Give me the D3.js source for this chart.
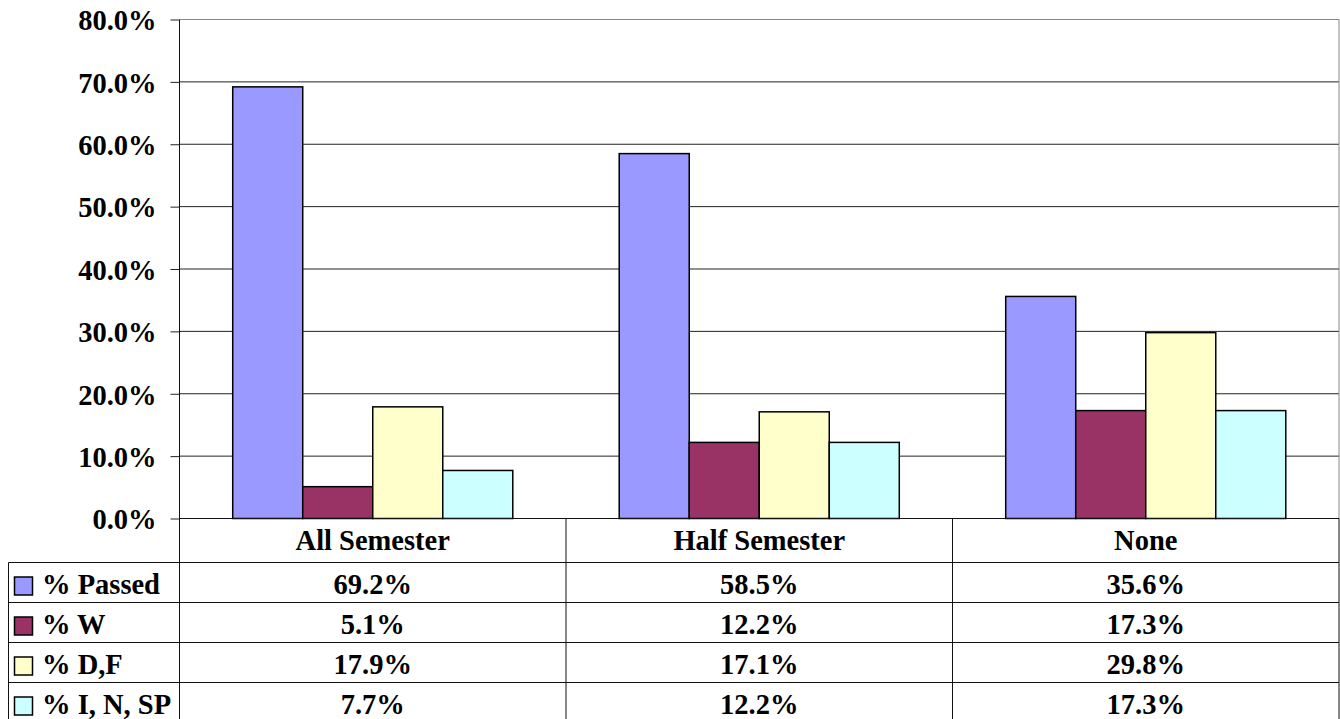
<!DOCTYPE html>
<html>
<head>
<meta charset="utf-8">
<script src="https://cdn.jsdelivr.net/npm/d3@7"></script>
<style>
  body { margin: 0; background: #fff; }
  text { font-family: "Liberation Serif", "Times New Roman", serif; font-weight: bold; fill: #000; }
</style>
</head>
<body>
<div id="chart"></div>
<script>
// ************ DATA ************
const CATEGORIES = ["All Semester", "Half Semester", "None"];
const SERIES = ["% Passed", "% W", "% D,F", "% I, N, SP"];
const PASSED = [0.692, 0.585, 0.356];
const WITHDRAWN = [0.051, 0.122, 0.173];
const DF = [0.179, 0.171, 0.298];
const INSP = [0.077, 0.122, 0.173];
const Y_TICKS = [0, 0.1, 0.2, 0.3, 0.4, 0.5, 0.6, 0.7, 0.8];
const COLORS = ["#9999FF", "#993366", "#FFFFCC", "#CCFFFF"];

const VALUES = [PASSED, WITHDRAWN, DF, INSP];

// ************ LAYOUT ************
const FRAME_WIDTH = 1340;
const FRAME_HEIGHT = 719;
const PLOT = {left: 179.5, right: 1339, top: 19.5, bottom: 518.5};
const TABLE_LEFT = 8.5;
const HEADER_H = 44;
const ROW_H = 40;
const FONT = "28.5px";

const svg = d3.select("#chart")
  .append("svg")
  .attr("width", FRAME_WIDTH)
  .attr("height", FRAME_HEIGHT);

const X_SCALE = d3.scaleBand()
  .domain(CATEGORIES)
  .range([PLOT.left, PLOT.right]);

const SUB_SCALE = d3.scaleBand()
  .domain(SERIES)
  .range([0, X_SCALE.bandwidth()])
  .paddingOuter(0.76);

const Y_SCALE = d3.scaleLinear()
  .domain([0, 0.8])
  .range([PLOT.bottom, PLOT.top]);

// gridlines
svg.append("g")
  .selectAll("line")
  .data(Y_TICKS.filter(d => d > 0))
  .enter()
  .append("line")
  .attr("x1", PLOT.left)
  .attr("x2", PLOT.right)
  .attr("y1", d => Y_SCALE(d))
  .attr("y2", d => Y_SCALE(d))
  .attr("stroke", d => d === 0.8 ? "#888" : "#222")
  .attr("stroke-width", 1);

// right border of plot
svg.append("line")
  .attr("x1", PLOT.right).attr("x2", PLOT.right)
  .attr("y1", PLOT.top).attr("y2", PLOT.bottom)
  .attr("stroke", "#888");

// bars
const flat = [];
SERIES.forEach((s, i) => {
  CATEGORIES.forEach((c, j) => {
    flat.push({series: s, cat: c, value: VALUES[i][j], color: COLORS[i]});
  });
});

svg.append("g")
  .selectAll("rect")
  .data(flat)
  .enter()
  .append("rect")
  .attr("x", d => X_SCALE(d.cat) + SUB_SCALE(d.series))
  .attr("y", d => Y_SCALE(d.value))
  .attr("width", SUB_SCALE.bandwidth())
  .attr("height", d => Y_SCALE(0) - Y_SCALE(d.value))
  .attr("fill", d => d.color)
  .attr("stroke", "#000")
  .attr("stroke-width", 1.5);

// y axis
const yAxis = svg.append("g")
  .attr("transform", "translate(" + PLOT.left + ",0)")
  .call(d3.axisLeft(Y_SCALE)
    .tickValues(Y_TICKS)
    .tickFormat(d3.format(".1%"))
    .tickSize(9)
    .tickPadding(14));
yAxis.attr("font-family", null).attr("font-size", null);
yAxis.select(".domain").remove();
yAxis.selectAll("line").attr("stroke", "#222");
yAxis.selectAll("text")
  .style("font-family", "'Liberation Serif', 'Times New Roman', serif")
  .style("font-size", FONT)
  .style("font-weight", "bold")
  .attr("fill", "#000")
  .attr("dy", "0.36em");

// axis line runs through the table
svg.append("line")
  .attr("x1", PLOT.left).attr("x2", PLOT.left)
  .attr("y1", PLOT.top).attr("y2", FRAME_HEIGHT)
  .attr("stroke", "#111");

// ************ DATA TABLE ************
const TABLE = svg.append("g");
const rowTop = i => PLOT.bottom + HEADER_H + i * ROW_H;

// horizontal lines
TABLE.append("line")
  .attr("x1", PLOT.left).attr("x2", PLOT.right)
  .attr("y1", PLOT.bottom).attr("y2", PLOT.bottom)
  .attr("stroke", "#111");
SERIES.forEach((s, i) => {
  TABLE.append("line")
    .attr("x1", TABLE_LEFT).attr("x2", PLOT.right)
    .attr("y1", rowTop(i)).attr("y2", rowTop(i))
    .attr("stroke", "#111");
});

// vertical lines
TABLE.append("line")
  .attr("x1", TABLE_LEFT).attr("x2", TABLE_LEFT)
  .attr("y1", rowTop(0)).attr("y2", FRAME_HEIGHT)
  .attr("stroke", "#111");
CATEGORIES.forEach(c => {
  const x = X_SCALE(c) + X_SCALE.bandwidth();
  TABLE.append("line")
    .attr("x1", x).attr("x2", x)
    .attr("y1", PLOT.bottom).attr("y2", FRAME_HEIGHT)
    .attr("stroke", "#111");
});

// header labels
TABLE.selectAll("text.cat")
  .data(CATEGORIES)
  .enter()
  .append("text")
  .attr("class", "cat")
  .attr("x", d => X_SCALE(d) + X_SCALE.bandwidth() / 2)
  .attr("y", PLOT.bottom + 31)
  .attr("text-anchor", "middle")
  .style("font-size", FONT)
  .text(d => d);

// legend swatches + series names
SERIES.forEach((s, i) => {
  TABLE.append("rect")
    .attr("x", 14.5)
    .attr("y", rowTop(i) + 14.5)
    .attr("width", 18)
    .attr("height", 18)
    .attr("fill", COLORS[i])
    .attr("stroke", "#000")
    .attr("stroke-width", 1.5);
  TABLE.append("text")
    .attr("x", 42)
    .attr("y", rowTop(i) + 31.5)
    .style("font-size", FONT)
    .text(s);
});

// values
TABLE.selectAll("text.val")
  .data(flat)
  .enter()
  .append("text")
  .attr("class", "val")
  .attr("x", d => X_SCALE(d.cat) + X_SCALE.bandwidth() / 2)
  .attr("y", d => rowTop(SERIES.indexOf(d.series)) + 31.5)
  .attr("text-anchor", "middle")
  .style("font-size", FONT)
  .text(d => d3.format(".1%")(d.value));
</script>
</body>
</html>
